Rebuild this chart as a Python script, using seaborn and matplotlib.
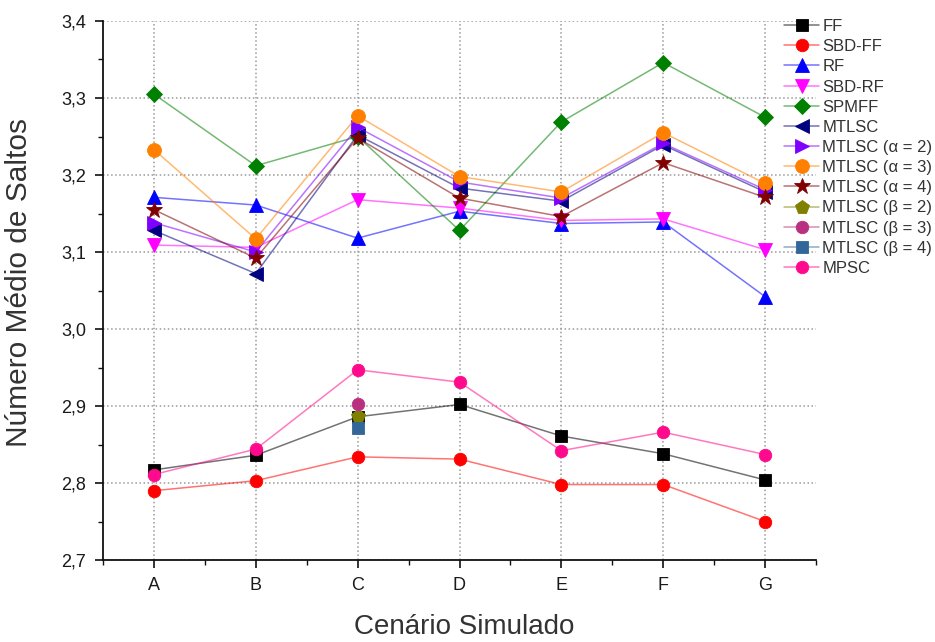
import numpy as np
import matplotlib
matplotlib.use("Agg")
import matplotlib.pyplot as plt
import matplotlib.colors as mcolors
from matplotlib.ticker import FuncFormatter, MultipleLocator, FixedLocator
import seaborn as sns

# Cenários simulados e número médio de saltos por algoritmo
cenarios = ["A", "B", "C", "D", "E", "F", "G"]
ff = [2.817, 2.836, 2.886, 2.902, 2.861, 2.838, 2.804]
sbd_ff = [2.790, 2.803, 2.834, 2.831, 2.798, 2.798, 2.750]
rf = [3.171, 3.161, 3.118, 3.153, 3.137, 3.139, 3.042]
sbd_rf = [3.109, 3.106, 3.168, 3.157, 3.141, 3.143, 3.103]
spmff = [3.305, 3.212, 3.250, 3.128, 3.269, 3.346, 3.275]
mtlsc = [3.128, 3.072, 3.252, 3.183, 3.166, 3.239, 3.178]
mtlsc_a2 = [3.138, 3.100, 3.262, 3.191, 3.170, 3.241, 3.181]
mtlsc_a3 = [3.233, 3.117, 3.277, 3.198, 3.178, 3.255, 3.189]
mtlsc_a4 = [3.155, 3.092, 3.248, 3.170, 3.146, 3.216, 3.171]
# variantes beta avaliadas apenas no cenário C
beta_cenarios = ["C"]
mtlsc_b2 = [2.887]
mtlsc_b3 = [2.903]
mtlsc_b4 = [2.872]
mpsc = [2.811, 2.844, 2.947, 2.931, 2.842, 2.866, 2.837]

sns.set_style("white")
plt.rcParams["font.family"] = ["Liberation Sans", "DejaVu Sans"]

pos = {c: i for i, c in enumerate(cenarios)}
xs_all = [pos[c] for c in cenarios]
xs_beta = [pos[c] for c in beta_cenarios]

series = [
    ("FF", xs_all, ff, "#000000", "s", 8),
    ("SBD-FF", xs_all, sbd_ff, "#FF0000", "o", 9),
    ("RF", xs_all, rf, "#0000FF", "^", 10),
    ("SBD-RF", xs_all, sbd_rf, "#FF00FF", "v", 10),
    ("SPMFF", xs_all, spmff, "#008000", "D", 8),
    ("MTLSC", xs_all, mtlsc, "#000080", "<", 10),
    ("MTLSC (\u03b1 = 2)", xs_all, mtlsc_a2, "#8000FF", ">", 10),
    ("MTLSC (\u03b1 = 3)", xs_all, mtlsc_a3, "#FF8000", "o", 10),
    ("MTLSC (\u03b1 = 4)", xs_all, mtlsc_a4, "#800000", "*", 12),
    ("MTLSC (\u03b2 = 2)", xs_beta, mtlsc_b2, "#808000", "p", 10),
    ("MTLSC (\u03b2 = 3)", xs_beta, mtlsc_b3, "#B8307F", "o", 9),
    ("MTLSC (\u03b2 = 4)", xs_beta, mtlsc_b4, "#336699", "s", 8),
    ("MPSC", xs_all, mpsc, "#FF0A8C", "o", 9),
]

fig = plt.figure(figsize=(9.35, 6.42), dpi=100)
ax = fig.add_axes([103 / 935, 1 - 560 / 642, (816 - 103) / 935, (560 - 21) / 642])

for name, xs, ys, col, mk, ms in series:
    sns.lineplot(
        x=xs, y=ys, ax=ax, label=name, sort=False, errorbar=None,
        color=mcolors.to_rgba(col, 0.55), linewidth=1.1,
        marker=mk, markersize=ms, markerfacecolor=col,
        markeredgecolor=col, markeredgewidth=0.6, zorder=3,
    )

ax.set_xlim(-0.5, 6.5)
ax.set_ylim(2.7, 3.4)
ax.xaxis.set_major_locator(FixedLocator(xs_all))
ax.set_xticklabels(cenarios)
ax.xaxis.set_minor_locator(FixedLocator([i + 0.5 for i in range(-1, 7)]))
ax.yaxis.set_major_locator(MultipleLocator(0.1))
ax.yaxis.set_minor_locator(MultipleLocator(0.05))
ax.yaxis.set_major_formatter(FuncFormatter(lambda v, p: f"{v:.1f}".replace(".", ",")))

ax.grid(True, which="major", color="#9a9a9a", linestyle=":", linewidth=1.1, zorder=0)
ax.set_axisbelow(True)
for side in ("top", "right"):
    ax.spines[side].set_visible(False)
for side in ("left", "bottom"):
    ax.spines[side].set_color("#111111")
    ax.spines[side].set_linewidth(1.3)

ax.tick_params(which="major", direction="out", length=6, width=1.2, colors="#111111",
               labelsize=13, labelcolor="#1a1a1a", left=True, bottom=True, pad=6)
ax.tick_params(which="minor", direction="out", length=3.5, width=1.0, colors="#111111",
               left=True, bottom=True)

ax.set_xlabel("Cenário Simulado", fontsize=20, color="#333333")
ax.set_ylabel("Número Médio de Saltos", fontsize=21.5, color="#333333")
ax.xaxis.set_label_coords(0.507, -0.1)
ax.yaxis.set_label_coords(-0.098, 0.515)

ax.legend(
    loc="upper left", bbox_to_anchor=(784 / 935, 1 - 19 / 642),
    bbox_transform=fig.transFigure, frameon=False, fontsize=12,
    handlelength=2.1, handletextpad=0.2, labelspacing=0.31,
    borderpad=0, borderaxespad=0, labelcolor="#333333",
)

fig.savefig("out.png", dpi=100)
